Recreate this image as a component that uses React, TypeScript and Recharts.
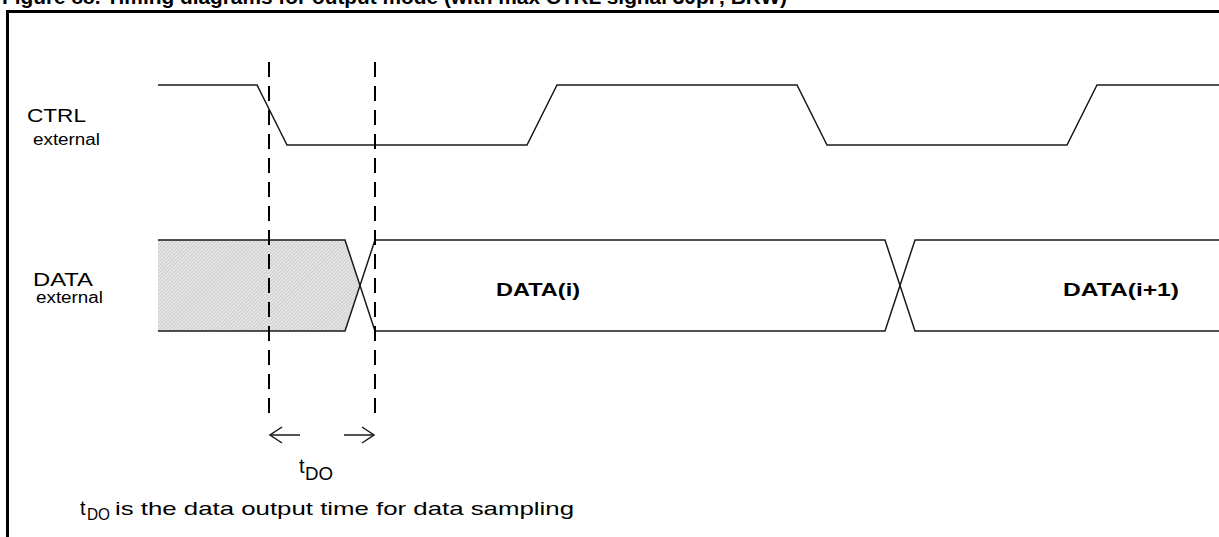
import { Area, ComposedChart, Line, ReferenceLine, XAxis, YAxis } from 'recharts'

const W = 1219
const H = 537

// vertical levels of the two signal rows (diagram units, 0 = top)
const ctrlHigh = 85
const ctrlLow = 145
const busTop = 240
const busBottom = 331
const busMid = 285.5

// CTRL external waveform: edge times and state (1 = high)
const ctrlTimes = [158, 257, 287, 527, 557, 797, 827, 1067, 1097, 1219]
const ctrlStates = [1, 1, 0, 0, 1, 1, 0, 0, 1, 1]

// DATA bus: times where a crossing starts/ends, and which rail the trace sits on (1 = top)
const busTimes = [158, 345, 375, 885, 915, 1219]
const railA = [1, 1, 0, 0, 1, 1]
const railB = [0, 0, 1, 1, 0, 0]

// invalid (hatched) data before DATA(i)
const hatchTimes = [158, 345, 360]
const hatchLow = [busTop, busTop, busMid]
const hatchHigh = [busBottom, busBottom, busMid]

// sampling markers and t_DO span
const markerTimes = [269, 375]
const markerSpan = [62, 422]
const arrowLevel = 435
const arrowLen = 30
const headLen = 12
const headHalf = 8

const ink = '#1a1a1a'
const font = '"Liberation Sans", Arial, Helvetica, sans-serif'

const ctrlData = ctrlTimes.map((t, i) => ({ t, v: ctrlStates[i] ? ctrlHigh : ctrlLow }))
const railAData = busTimes.map((t, i) => ({ t, v: railA[i] ? busTop : busBottom }))
const railBData = busTimes.map((t, i) => ({ t, v: railB[i] ? busTop : busBottom }))
const hatchData = hatchTimes.map((t, i) => ({ t, r: [hatchLow[i], hatchHigh[i]] }))

const [tStart, tEnd] = markerTimes
const leftShaft = [{ t: tStart + 1 + arrowLen, v: arrowLevel }, { t: tStart + 1, v: arrowLevel }]
const leftHead = [
  { t: tStart + 1 + headLen, v: arrowLevel - headHalf },
  { t: tStart + 1, v: arrowLevel },
  { t: tStart + 1 + headLen, v: arrowLevel + headHalf },
]
const rightShaft = [{ t: tEnd - 1 - arrowLen, v: arrowLevel }, { t: tEnd - 1, v: arrowLevel }]
const rightHead = [
  { t: tEnd - 1 - headLen, v: arrowLevel - headHalf },
  { t: tEnd - 1, v: arrowLevel },
  { t: tEnd - 1 - headLen, v: arrowLevel + headHalf },
]

const trace = (key: string, data: { t: number; v: number }[], width = 1.5) => (
  <Line
    key={key}
    data={data}
    dataKey="v"
    type="linear"
    stroke={ink}
    strokeWidth={width}
    dot={false}
    activeDot={false}
    isAnimationActive={false}
  />
)

export default function App() {
  return (
    <div style={{ position: 'absolute', left: 0, top: 0, width: W, height: H, background: '#fff' }}>
      <ComposedChart width={W} height={H} margin={{ top: 0, right: 0, bottom: 0, left: 0 }}>
        <defs>
          <pattern id="hatch" width="2.5" height="2.5" patternUnits="userSpaceOnUse" patternTransform="rotate(45)">
            <rect width="2.5" height="2.5" fill="#e6e6e6" />
            <line x1="0" y1="0" x2="0" y2="2.5" stroke="#b4b4b4" strokeWidth="1" />
          </pattern>
        </defs>
        <XAxis type="number" dataKey="t" domain={[0, W]} allowDataOverflow hide />
        <YAxis type="number" domain={[0, H]} reversed allowDataOverflow hide />

        {/* figure frame */}
        <ReferenceLine segment={[{ x: 6, y: 11.5 }, { x: W, y: 11.5 }]} stroke="#000" strokeWidth={3} ifOverflow="visible" />
        <ReferenceLine segment={[{ x: 7.5, y: 10 }, { x: 7.5, y: H }]} stroke="#000" strokeWidth={3} ifOverflow="visible" />

        <Area
          data={hatchData}
          dataKey="r"
          type="linear"
          stroke="none"
          fill="url(#hatch)"
          fillOpacity={1}
          dot={false}
          activeDot={false}
          isAnimationActive={false}
        />

        {trace('ctrl', ctrlData)}
        {trace('railA', railAData)}
        {trace('railB', railBData)}

        {markerTimes.map((x) => (
          <ReferenceLine
            key={x}
            segment={[{ x, y: markerSpan[0] }, { x, y: markerSpan[1] }]}
            stroke="#000"
            strokeWidth={2}
            strokeDasharray="15 9"
            ifOverflow="visible"
          />
        ))}

        {trace('ls', leftShaft)}
        {trace('lh', leftHead)}
        {trace('rs', rightShaft)}
        {trace('rh', rightHead)}
      </ComposedChart>

      <svg
        width={W}
        height={H}
        style={{ position: 'absolute', left: 0, top: 0, pointerEvents: 'none' }}
        fontFamily={font}
        fill="#000"
      >
        <text x={2} y={4} fontSize={20} fontWeight="bold" textLength={785} lengthAdjust="spacingAndGlyphs">
          Figure 88. Timing diagrams for output mode (with max CTRL signal 30pF, BRW)
        </text>

        <text x={27} y={122} fontSize={18} textLength={59} lengthAdjust="spacingAndGlyphs">CTRL</text>
        <text x={33} y={145} fontSize={16} textLength={67} lengthAdjust="spacingAndGlyphs">external</text>
        <text x={33} y={286} fontSize={19} textLength={60} lengthAdjust="spacingAndGlyphs">DATA</text>
        <text x={36} y={303} fontSize={16} textLength={67} lengthAdjust="spacingAndGlyphs">external</text>

        <text x={496} y={296} fontSize={18} fontWeight="bold" textLength={84} lengthAdjust="spacingAndGlyphs">DATA(i)</text>
        <text x={1063} y={296} fontSize={18} fontWeight="bold" textLength={116} lengthAdjust="spacingAndGlyphs">DATA(i+1)</text>

        <text x={299} y={473} fontSize={20}>t</text>
        <text x={305} y={480} fontSize={18} textLength={28} lengthAdjust="spacingAndGlyphs">DO</text>

        <text x={80} y={515} fontSize={20}>t</text>
        <text x={87} y={520} fontSize={17} textLength={23} lengthAdjust="spacingAndGlyphs">DO</text>
        <text x={115} y={515} fontSize={19} textLength={459} lengthAdjust="spacingAndGlyphs">
          is the data output time for data sampling
        </text>
      </svg>
    </div>
  )
}
